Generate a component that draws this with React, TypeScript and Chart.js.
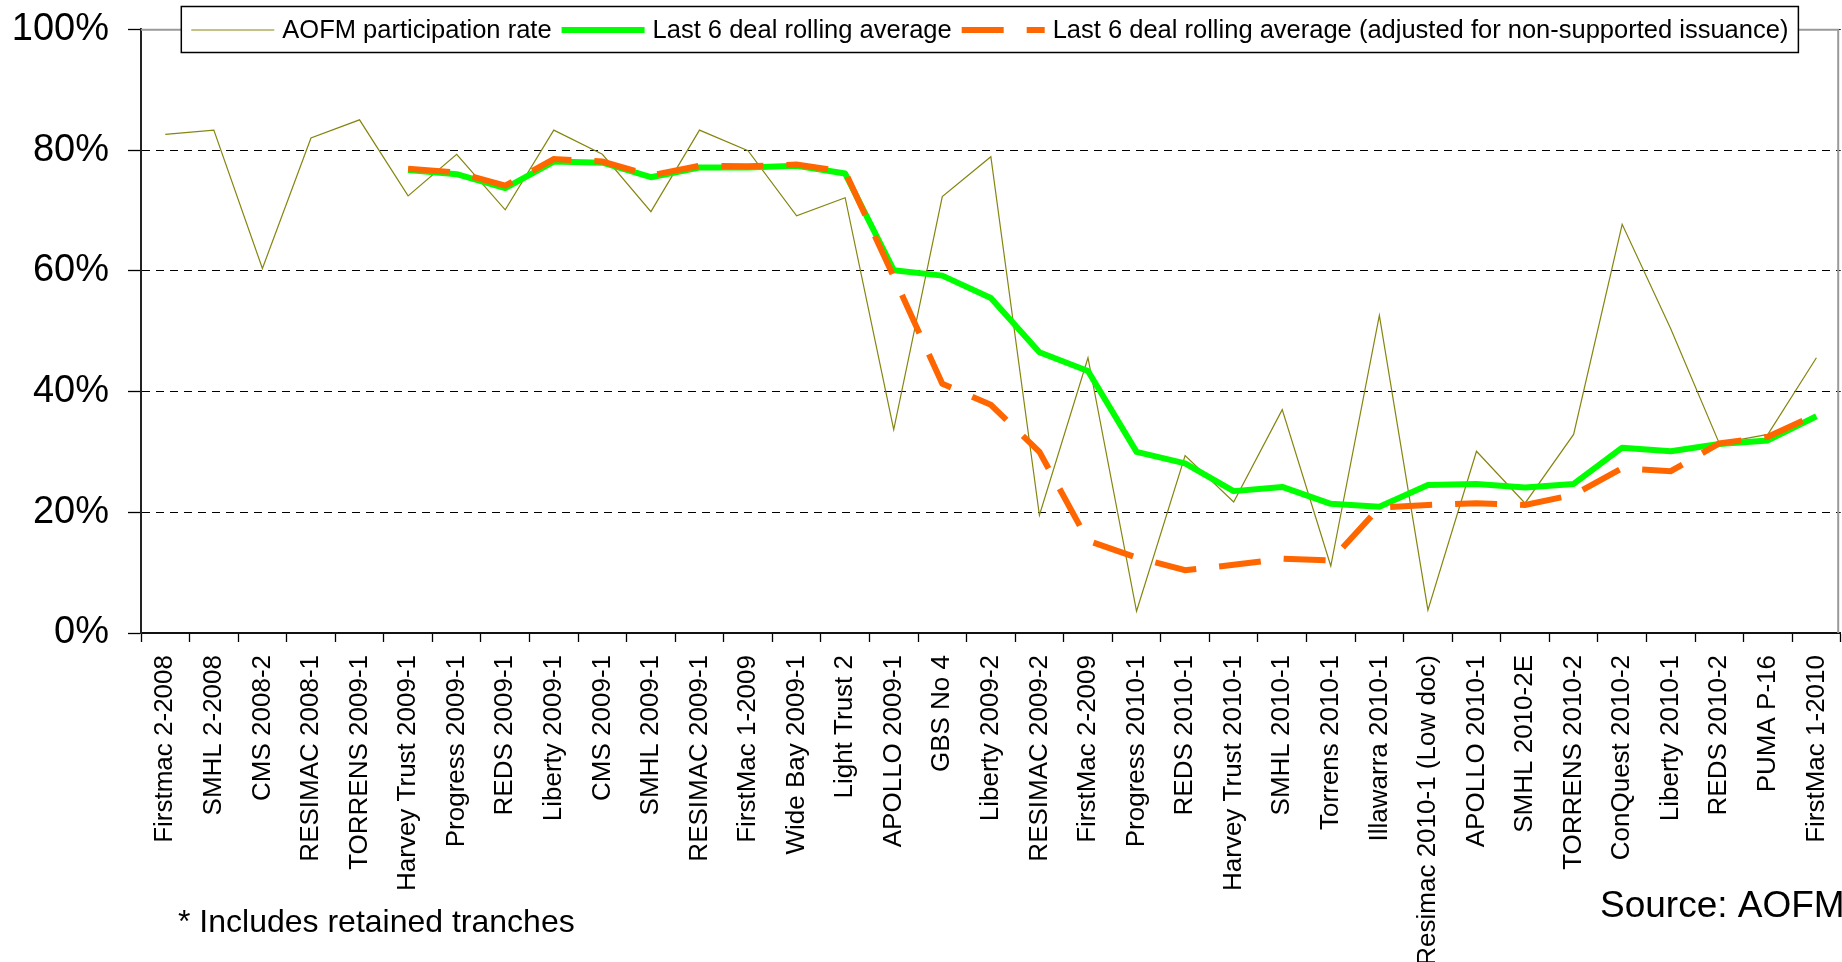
import React, { useEffect, useRef } from 'react';
import { Chart, registerables } from 'chart.js';

Chart.register(...registerables);

const categories = [
  'Firstmac 2-2008', 'SMHL 2-2008', 'CMS 2008-2', 'RESIMAC 2008-1', 'TORRENS 2009-1',
  'Harvey Trust 2009-1', 'Progress 2009-1', 'REDS 2009-1', 'Liberty 2009-1', 'CMS 2009-1',
  'SMHL 2009-1', 'RESIMAC 2009-1', 'FirstMac 1-2009', 'Wide Bay 2009-1', 'Light Trust 2',
  'APOLLO 2009-1', 'GBS No 4', 'Liberty 2009-2', 'RESIMAC 2009-2', 'FirstMac 2-2009',
  'Progress 2010-1', 'REDS 2010-1', 'Harvey Trust 2010-1', 'SMHL 2010-1', 'Torrens 2010-1',
  'Illawarra 2010-1', 'Resimac 2010-1 (Low doc)', 'APOLLO 2010-1', 'SMHL 2010-2E', 'TORRENS 2010-2',
  'ConQuest 2010-2', 'Liberty 2010-1', 'REDS 2010-2', 'PUMA P-16', 'FirstMac 1-2010',
];

const participationRate = [
  82.6, 83.3, 60.4, 82.0, 85.0,
  72.4, 79.3, 70.1, 83.3, 79.3,
  69.8, 83.3, 79.9, 69.1, 72.1,
  33.7, 72.3, 78.9, 19.5, 45.6,
  3.6, 29.4, 21.7, 37.0, 11.1,
  52.6, 3.8, 30.1, 21.5, 32.9,
  67.7, 50.4, 31.4, 32.9, 45.6,
];

const rollingAverage = [
  null, null, null, null, null,
  76.7, 76.0, 73.7, 78.1, 77.9,
  75.5, 77.1, 77.1, 77.4, 76.1,
  60.1, 59.2, 55.5, 46.5, 43.4,
  30.0, 28.1, 23.5, 24.2, 21.4,
  20.9, 24.5, 24.7, 24.1, 24.7,
  30.7, 30.1, 31.3, 31.9, 35.9,
];

const rollingAdjusted = [
  null, null, null, null, null,
  76.9, 76.3, 74.1, 78.5, 78.1,
  75.8, 77.4, 77.3, 77.6, 76.4,
  59.0, 41.3, 37.8, 30.0, 15.3,
  12.5, 10.4, 11.3, 12.3, 12.0,
  20.8, 21.2, 21.5, 21.2, 22.9,
  27.3, 26.8, 31.4, 32.5, 36.2,
];

const seriesLabels = [
  'AOFM participation rate',
  'Last 6 deal rolling average',
  'Last 6 deal rolling average (adjusted for non-supported issuance)',
];

const footnoteText = '* Includes retained tranches';
const sourceText = 'Source: AOFM';

const FONT = "'Liberation Sans', Arial, Helvetica, sans-serif";

const plotBorder = {
  id: 'plotBorder',
  beforeDatasetsDraw(chart: any) {
    const { ctx, chartArea } = chart;
    const rx = chartArea.right - 2.5;
    ctx.save();
    ctx.strokeStyle = '#9a9a9a';
    ctx.lineWidth = 2;
    ctx.setLineDash([]);
    ctx.beginPath();
    ctx.moveTo(chartArea.left, chartArea.top + 0.5);
    ctx.lineTo(rx, chartArea.top + 0.5);
    ctx.lineTo(rx, chartArea.bottom);
    ctx.stroke();
    ctx.restore();
  },
};

const boxLegend = {
  id: 'boxLegend',
  afterDraw(chart: any) {
    const { ctx, chartArea } = chart;
    const ds = chart.data.datasets;
    ctx.save();
    ctx.font = `25.5px ${FONT}`;
    const sample = 83;
    const gapText = 8;
    const gapItem = 10;
    const padX = 10;
    const widths = ds.map((d: any) => ctx.measureText(d.label).width);
    let total = 0;
    widths.forEach((w: number) => { total += sample + gapText + w; });
    total += gapItem * (ds.length - 1);
    const boxW = total + padX * 2;
    const cx = (chartArea.left + chartArea.right) / 2 - 1;
    const left = cx - boxW / 2;
    const top = 6.5;
    const h = 46;
    ctx.fillStyle = '#ffffff';
    ctx.fillRect(left, top, boxW, h);
    ctx.strokeStyle = '#000000';
    ctx.lineWidth = 1.5;
    ctx.strokeRect(left, top, boxW, h);
    let x = left + padX;
    const ySample = 30;
    ds.forEach((d: any, i: number) => {
      ctx.save();
      ctx.beginPath();
      ctx.setLineDash(d.borderDash || []);
      ctx.lineWidth = d.borderWidth;
      ctx.strokeStyle = d.borderColor;
      ctx.lineCap = 'butt';
      ctx.moveTo(x, ySample);
      ctx.lineTo(x + sample, ySample);
      ctx.stroke();
      ctx.restore();
      x += sample + gapText;
      ctx.fillStyle = '#000000';
      ctx.textBaseline = 'alphabetic';
      ctx.textAlign = 'left';
      ctx.fillText(d.label, x, 37.5);
      x += widths[i] + gapItem;
    });
    ctx.restore();
  },
};

const notes = {
  id: 'notes',
  afterDraw(chart: any) {
    const { ctx } = chart;
    ctx.save();
    ctx.fillStyle = '#000000';
    ctx.textBaseline = 'alphabetic';
    ctx.textAlign = 'left';
    ctx.font = `32px ${FONT}`;
    ctx.fillText(footnoteText, 178, 932);
    ctx.font = `37px ${FONT}`;
    ctx.fillText(sourceText, 1600, 917);
    ctx.restore();
  },
};

export default function App() {
  const canvasRef = useRef<HTMLCanvasElement | null>(null);

  useEffect(() => {
    const canvas = canvasRef.current;
    if (!canvas) return;
    const chart = new Chart(canvas, {
      type: 'line',
      data: {
        labels: categories,
        datasets: [
          {
            label: seriesLabels[0],
            data: participationRate,
            borderColor: '#85850f',
            borderWidth: 1.2,
            pointRadius: 0,
            tension: 0,
            order: 3,
            fill: false,
          },
          {
            label: seriesLabels[1],
            data: rollingAverage,
            borderColor: '#00ff00',
            borderWidth: 6,
            pointRadius: 0,
            tension: 0,
            order: 2,
            borderJoinStyle: 'round',
            fill: false,
          },
          {
            label: seriesLabels[2],
            data: rollingAdjusted,
            borderColor: '#ff6600',
            borderWidth: 6,
            borderDash: [42, 23],
            borderCapStyle: 'butt',
            pointRadius: 0,
            tension: 0,
            order: 1,
            fill: false,
          },
        ],
      } as any,
      options: {
        responsive: false,
        maintainAspectRatio: false,
        animation: false,
        devicePixelRatio: 1,
        layout: { padding: { top: 29.3, right: 1.3, left: 0, bottom: 0 } },
        plugins: {
          legend: { display: false },
          tooltip: { enabled: false },
        },
        scales: {
          x: {
            type: 'category',
            offset: true,
            grid: {
              display: true,
              offset: true,
              drawOnChartArea: false,
              drawTicks: true,
              tickLength: 9,
              tickColor: '#000000',
              tickWidth: 1.3,
            },
            border: { display: true, color: '#111111', width: 2 },
            ticks: {
              autoSkip: false,
              minRotation: 90,
              maxRotation: 90,
              padding: 13,
              color: '#000000',
              font: { family: FONT, size: 26 },
            },
            afterFit: (s: any) => {
              s.height = 329;
              s.paddingLeft = 0;
              s.paddingRight = 0;
            },
          },
          y: {
            min: 0,
            max: 100,
            ticks: {
              stepSize: 20,
              padding: 19,
              color: '#000000',
              font: { family: FONT, size: 38 },
              callback: (v: any) => `${v}%`,
            },
            grid: {
              color: '#000000',
              lineWidth: 1,
              drawTicks: true,
              tickLength: 13,
              tickColor: '#000000',
              tickWidth: 1.3,
            },
            border: { display: true, color: '#222222', width: 2, dash: [8, 6] },
            afterFit: (s: any) => {
              s.width = 141;
              s.paddingTop = 0;
              s.paddingBottom = 0;
            },
          },
        },
      } as any,
      plugins: [plotBorder, boxLegend, notes],
    });
    return () => chart.destroy();
  }, []);

  return (
    <div style={{ position: 'fixed', left: 0, top: 0, width: 1842, height: 962, background: '#ffffff' }}>
      <canvas ref={canvasRef} width={1842} height={962} style={{ display: 'block', width: 1842, height: 962 }} />
    </div>
  );
}
